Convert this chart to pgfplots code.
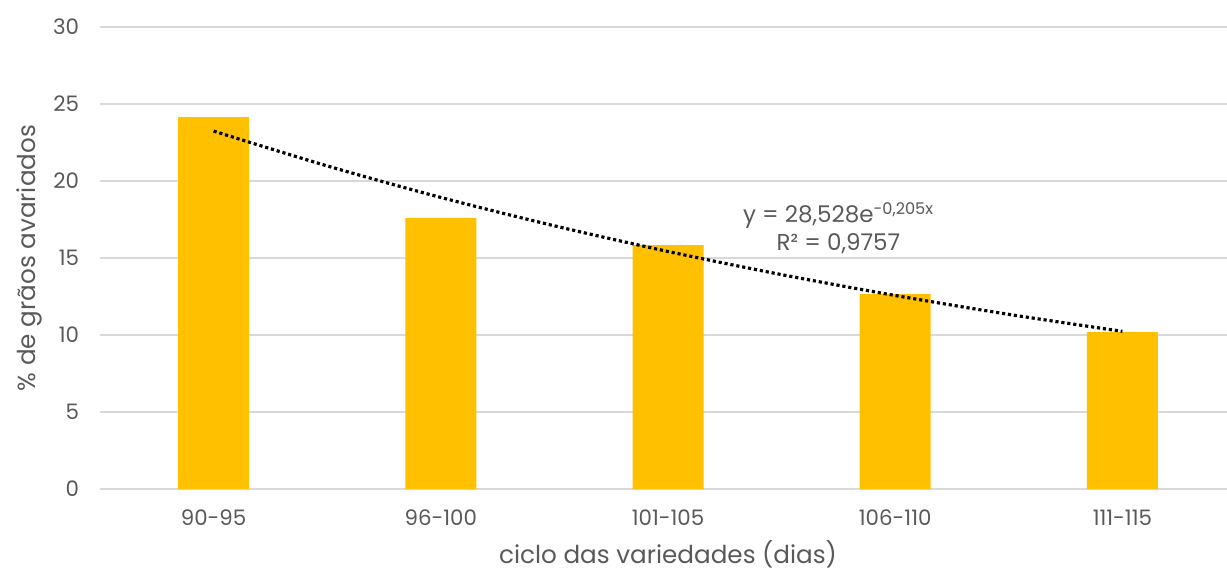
\documentclass[border=0pt]{standalone}
\usepackage{pgfplots}
\pgfplotsset{compat=1.18}
\usepackage{fontspec}
\setmainfont{Poppins}
\definecolor{txt}{HTML}{595959}
\definecolor{gridc}{HTML}{D9D9D9}
\definecolor{barc}{HTML}{FFC000}
\begin{document}
\begin{tikzpicture}[x=1pt,y=1pt]
\begin{axis}[
  at={(0,0)}, anchor=south west,
  scale only axis,
  width=681.6pt, height=277.2pt,
  xmin=-0.5, xmax=4.5, ymin=0, ymax=30,
  xtick={0,1,2,3,4},
  xticklabels={90-95,96-100,101-105,106-110,111-115},
  ytick={0,5,10,15,20,25,30},
  ymajorgrids, grid style={gridc, line width=0.9pt},
  axis x line*=bottom, axis y line*=left,
  x axis line style={gridc, line width=0.9pt, -},
  y axis line style={draw=none},
  major tick length=0pt,
  tick style={draw=none},
  ticklabel style={font=\fontsize{12.8}{14}\selectfont, text=txt},
  /pgf/number format/assume math mode=true,
  yticklabel style={xshift=-9pt},
  xticklabel style={yshift=-9pt},
  xlabel={ciclo das variedades (dias)},
  ylabel={\% de grãos avariados},
  label style={font=\fontsize{14.8}{16}\selectfont, text=txt},
  xlabel style={yshift=-2pt},
  ylabel style={yshift=0pt},
  clip=false,
]
\addplot[ybar, bar width=42.6pt, fill=barc, draw=none] coordinates {
  (0,24.15) (1,17.6) (2,15.84) (3,12.66) (4,10.19)
};
\addplot[black, line width=1.9pt, dash pattern=on 1.9pt off 1.7pt, smooth] coordinates {
  (0,23.241) (0.5,20.98) (1,18.933) (1.5,17.09) (2,15.423) (2.5,13.92) (3,12.565) (3.5,11.34) (4,10.236)
};
\node[text=txt, align=center, font=\fontsize{13.8}{16.5}\selectfont] at (axis cs:2.75,16.95) {y = 28,528e\textsuperscript{-0,205x}\\R² = 0,9757};
\end{axis}
\pgfresetboundingbox
\path[use as bounding box] (-60pt,-49.2pt) rectangle (676.2pt,293.4pt);
\end{tikzpicture}
\end{document}
